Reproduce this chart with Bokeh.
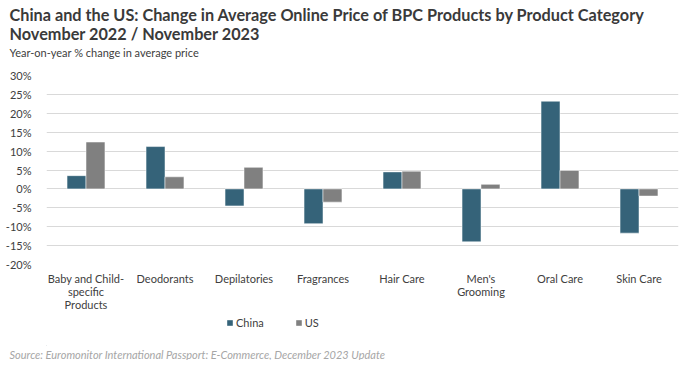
from bokeh.plotting import figure
from bokeh.layouts import column
from bokeh.models import (ColumnDataSource, FactorRange, Range1d, FixedTicker,
                          PrintfTickFormatter, Title, Legend, LegendItem)
from bokeh.transform import dodge
from bokeh.embed import file_html
from bokeh.resources import INLINE

categories = ["Baby and Child-\nspecific\nProducts", "Deodorants", "Depilatories",
              "Fragrances", "Hair Care", "Men's\nGrooming", "Oral Care", "Skin Care"]
china = [3.5, 11.2, -4.5, -9.2, 4.5, -14.0, 23.2, -11.7]
us = [12.4, 3.2, 5.7, -3.5, 4.7, 1.2, 4.9, -1.9]
y_ticks = [-20, -15, -10, -5, 0, 5, 10, 15, 20, 25, 30]
series_names = ["China", "US"]

title1 = "China and the US: Change in Average Online Price of BPC Products by Product Category"
title2 = "November 2022 / November 2023"
subtitle = "Year-on-year % change in average price"
source_text = "Source: Euromonitor International Passport: E-Commerce, December 2023 Update"

FONT = "Lato"
C_CHINA = "#356379"
C_US = "#808080"

src = ColumnDataSource(dict(cat=categories, china=china, us=us))

p = figure(width=683, height=313, x_range=FactorRange(*categories),
           y_range=Range1d(-20, 30), output_backend="svg", toolbar_location=None,
           min_border_left=46, min_border_right=5, min_border_top=75,
           min_border_bottom=48)
p.outline_line_color = None
p.background_fill_color = "white"

r1 = p.vbar(x=dodge("cat", -0.12, range=p.x_range), top="china", width=0.24,
            source=src, fill_color=C_CHINA, line_color="white", line_alpha=0.5)
r2 = p.vbar(x=dodge("cat", 0.12, range=p.x_range), top="us", width=0.24,
            source=src, fill_color=C_US, line_color="white", line_alpha=0.5)

p.xgrid.grid_line_color = None
p.ygrid.grid_line_color = "#d9d9d9"
p.ygrid.grid_line_width = 1
p.yaxis.ticker = FixedTicker(ticks=y_ticks)
p.yaxis.formatter = PrintfTickFormatter(format="%d%%")
for ax in (p.xaxis[0], p.yaxis[0]):
    ax.axis_line_color = None
    ax.major_tick_line_color = None
    ax.minor_tick_line_color = None
    ax.major_label_text_font = FONT
    ax.major_label_text_font_size = "11px"
    ax.major_label_text_color = "#404040"
p.yaxis.major_label_standoff = 9
p.xaxis.major_label_standoff = 1
p.xaxis.major_label_text_line_height = 1.0

p.title.text = title1
p.title.align = "left"
p.title.offset = -37
p.title.text_font = FONT
p.title.text_font_size = "16.25px"
p.title.text_font_style = "bold"
p.title.text_color = "#3a3a3a"
p.title.standoff = 0
p.add_layout(Title(text=" ", text_font_size="10.5px", standoff=0), "above")
p.add_layout(Title(text=subtitle, align="left", offset=-37, text_font=FONT,
                   text_font_size="11px", text_font_style="normal",
                   text_color="#404040", standoff=5), "above")
p.add_layout(Title(text=title2, align="left", offset=-37, text_font=FONT,
                   text_font_size="16.25px", text_font_style="bold",
                   text_color="#3a3a3a", standoff=-3), "above")

# lower strip: legend and source note
q = figure(width=683, height=47, x_range=Range1d(0, 1), y_range=Range1d(0, 1),
           x_axis_type=None, y_axis_type=None, output_backend="svg",
           toolbar_location=None, title_location="below",
           min_border_left=46, min_border_right=5, min_border_top=0,
           min_border_bottom=0)
q.outline_line_color = None
q.xgrid.visible = False
q.ygrid.visible = False
q.title.text = source_text
q.title.align = "left"
q.title.offset = -37
q.title.standoff = 0
q.title.text_font = FONT
q.title.text_font_size = "11px"
q.title.text_font_style = "italic"
q.title.text_color = "#a6a6a6"
# legend swatches: placeholder glyphs kept outside the visible range
k1 = q.vbar(x=[-5], top=[-5], width=0.1, fill_color=C_CHINA, line_color=None)
k2 = q.vbar(x=[-5], top=[-5], width=0.1, fill_color=C_US, line_color=None)
legend = Legend(items=[LegendItem(label=series_names[0], renderers=[k1]),
                       LegendItem(label=series_names[1], renderers=[k2])],
                orientation="horizontal", location=(180, 16),
                glyph_width=7, glyph_height=7, label_height=14,
                label_standoff=3, spacing=31,
                padding=0, margin=0, border_line_color=None,
                background_fill_alpha=0,
                label_text_font=FONT, label_text_font_size="11px",
                label_text_color="#404040")
q.add_layout(legend, "center")

layout = column(p, q, spacing=0)
open("out.html", "w").write(file_html(layout, INLINE))
